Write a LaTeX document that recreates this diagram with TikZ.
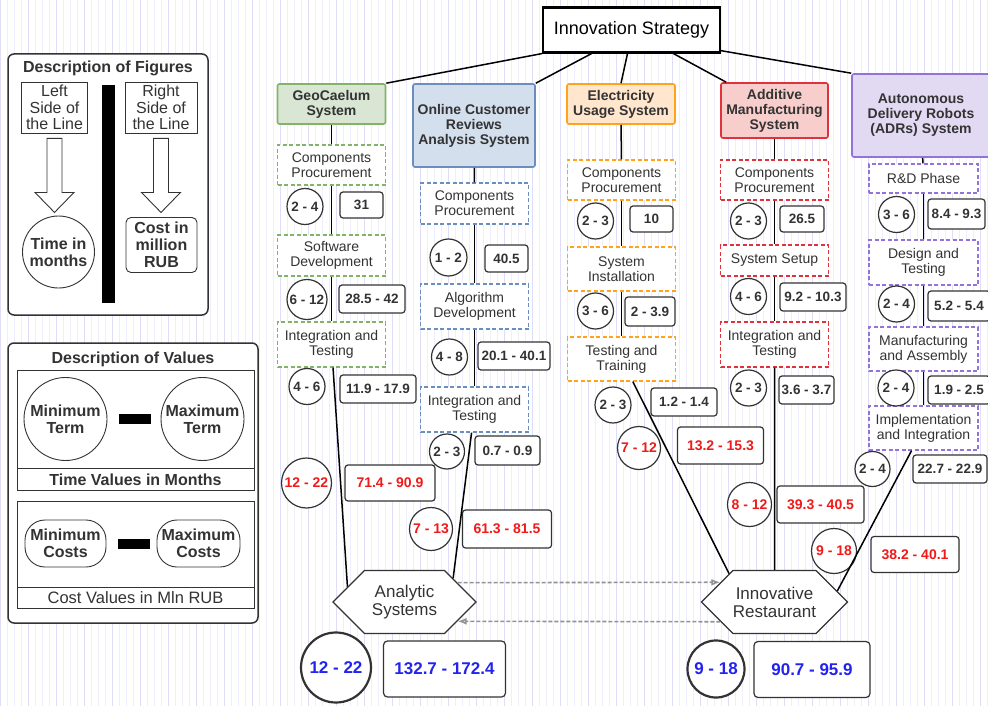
\documentclass[tikz,border=0pt]{standalone}
\usepackage{fontspec}
\setmainfont{Liberation Sans}
\usetikzlibrary{arrows.meta}
\usetikzlibrary{shapes.symbols}
\usetikzlibrary{positioning}

\definecolor{gridcol}{RGB}{222,222,248}
\definecolor{gridfine}{RGB}{238,238,252}
\definecolor{txt}{HTML}{333333}
\definecolor{geoline}{HTML}{82B366}
\definecolor{geofill}{HTML}{D9E6D4}
\definecolor{onlline}{HTML}{6C8EBF}
\definecolor{onlfill}{HTML}{D4DFEE}
\definecolor{elecline}{HTML}{FFA31A}
\definecolor{elecfill}{HTML}{FFE6CC}
\definecolor{addline}{HTML}{E0323C}
\definecolor{addfill}{HTML}{F8CECC}
\definecolor{adrline}{HTML}{9373D9}
\definecolor{adrfill}{HTML}{E2DAF3}
\definecolor{valred}{HTML}{F01A1A}
\definecolor{valblue}{HTML}{2323F0}

\begin{document}
\begin{tikzpicture}[x=1pt,y=-1pt,
  every node/.style={text=txt},
  lvl/.style={draw,line width=1.6pt,rounded corners=2pt,align=center,inner sep=1pt,
    font=\fontsize{14}{15}\selectfont\bfseries},
  phase/.style={draw,dash pattern=on 4pt off 2.5pt,line width=1.2pt,fill=white,align=center,
    minimum width=108,minimum height=41,inner sep=1pt,font=\fontsize{14}{15}\selectfont},
  term/.style={circle,draw=txt,line width=1.2pt,fill=white,inner sep=0pt,minimum size=36,
    font=\fontsize{13.5}{14}\selectfont\bfseries},
  cost/.style={draw=txt,line width=1.2pt,fill=white,rounded corners=3pt,inner sep=1pt,
    minimum height=27,font=\fontsize{13.5}{14}\selectfont\bfseries},
  rterm/.style={term,text=valred,font=\fontsize{14}{15}\selectfont\bfseries},
  rcost/.style={cost,text=valred,minimum height=36,font=\fontsize{14}{15}\selectfont\bfseries},
  total/.style={draw=txt,fill=white,inner sep=0pt,text=valblue,font=\fontsize{17}{18}\selectfont\bfseries},
  hexa/.style={signal,signal to=west and east,signal pointer angle=90,draw=txt,line width=1.2pt,
    fill=white,minimum width=143,minimum height=63,inner sep=0pt,align=center,
    font=\fontsize{17}{18}\selectfont},
  link/.style={line width=1.5pt,black},
  flow/.style={line width=1.6pt,gray!85,dash pattern=on 4pt off 2pt,-{Latex[open,length=9pt,width=7pt]}},
  legend/.style={draw=txt,line width=0.9pt,align=center,inner sep=0pt},
  bold16/.style={font=\fontsize{16}{17}\selectfont\bfseries},
  reg16/.style={font=\fontsize{16}{16.5}\selectfont}]

\useasboundingbox (0,0) rectangle (988,706);
\fill[white] (0,0) rectangle (988,706);
\draw[gridfine,line width=0.5pt,step=7] (0,0) grid (988,706);
\draw[gridcol,line width=0.6pt,step=28] (0,0) grid (988,706);

% description of figures
\draw[line width=1.5pt,draw=txt,rounded corners=6pt,fill=white] (8,54) rectangle (208,315);
\node[bold16] (figs) at (108,68) {Description of Figures};
\node[legend,reg16,minimum width=66,minimum height=51] (lside) at (54.5,107.5) {Left\\Side of\\the Line};
\node[legend,reg16,minimum width=72,minimum height=51] (rside) at (161,107.5) {Right\\Side of\\the Line};
\fill[black] (102,85) rectangle (115,303);
\draw[line width=0.9pt,draw=txt,fill=white] ([xshift=-7.5,yshift=-5]lside.south) -- ++(15,0) -- ++(0,54)
  -- ++(12,0) -- ++(-19.5,20) -- ++(-19.5,-20) -- ++(12,0) -- cycle;
\draw[line width=0.9pt,draw=txt,fill=white] ([xshift=-7.5,yshift=-5]rside.south) -- ++(15,0) -- ++(0,54)
  -- ++(12,0) -- ++(-19.5,20) -- ++(-19.5,-20) -- ++(12,0) -- cycle;
\node[legend,circle,bold16,minimum size=72] (tmonth) at (58.5,252) {Time in\\months};
\node[legend,bold16,rounded corners=5pt,minimum width=71,minimum height=55] (crub) at (161.5,245) {Cost in\\million\\RUB};

% description of values
\draw[line width=1.5pt,draw=txt,rounded corners=6pt,fill=white] (8,343) rectangle (258,623);
\node[bold16] (vals) at (133,359) {Description of Values};
\draw[line width=0.9pt,draw=txt] (17,370) rectangle (254,490);
\draw[line width=0.9pt,draw=txt] (17,468) -- (254,468);
\node[bold16] (tvm) at (135.5,479.5) {Time Values in Months};
\node[legend,circle,bold16,minimum size=83] (minterm) at (65.5,419) {Minimum\\Term};
\node[legend,circle,bold16,minimum size=83] (maxterm) at (202.5,419) {Maximum\\Term};
\draw[line width=10pt] ([xshift=12]minterm.east) -- ([xshift=-10]maxterm.west);
\draw[line width=0.9pt,draw=txt] (17,501) rectangle (254,608);
\draw[line width=0.9pt,draw=txt] (17,587) -- (254,587);
\node[font=\fontsize{16.5}{17}\selectfont] (cvm) at (135.5,597.5) {Cost Values in Mln RUB};
\node[legend,bold16,rounded corners=20pt,minimum width=81,minimum height=47] (mincost) at (65.5,543.5) {Minimum\\Costs};
\node[legend,bold16,rounded corners=20pt,minimum width=83,minimum height=47] (maxcost) at (198.5,543.5) {Maximum\\Costs};
\draw[line width=10pt] ([xshift=12]mincost.east) -- ([xshift=-7]maxcost.west);

% strategy and systems
\node[draw=black,line width=2.2pt,fill=white,minimum width=177,minimum height=45,
  font=\fontsize{18}{19}\selectfont,text=black] (strat) at (631.5,30) {Innovation Strategy};
\node[lvl,draw=geoline,fill=geofill,minimum width=108,minimum height=40] (geo) at (331.5,104) {GeoCaelum\\System};
\node[lvl,draw=onlline,fill=onlfill,minimum width=122,minimum height=83] (onl) at (474,125.5) {Online Customer\\Reviews\\Analysis System};
\node[lvl,draw=elecline,fill=elecfill,minimum width=108,minimum height=40] (elec) at (621,104) {Electricity\\Usage System};
\node[lvl,draw=addline,fill=addfill,minimum width=107,minimum height=55] (add) at (774.5,110.5) {Additive\\Manufacturing\\System};
\node[lvl,draw=adrline,fill=adrfill,minimum width=138,minimum height=83] (adr) at (921,115.5) {Autonomous\\Delivery Robots\\(ADRs) System};

\draw[link] (strat.south west) -- (geo.north east);
\draw[link] ([xshift=-40]strat.south) -- (onl.north east);
\draw[link] ([xshift=-4]strat.south) -- (elec.north);
\draw[link] ([xshift=42]strat.south) -- ([xshift=6]add.north west);
\draw[link] (strat.-13) -- (adr.north west);

% GeoCaelum
\node[phase,draw=geoline,minimum height=40] (gcp) at (331.5,165) {Components\\Procurement};
\node[phase,draw=geoline] (gsd) at (331.5,255.5) {Software\\Development};
\node[phase,draw=geoline,minimum height=45] (gint) at (331.5,344.5) {Integration and\\Testing};
\draw[link] (geo) -- (gcp);
\draw[link] (gcp) -- (gsd);
\draw[link] (gsd) -- (gint);
\node[term] (gt1) at (305,206.5) {2 - 4};
\node[cost,minimum width=43,minimum height=26] (gc1) at (361.5,205) {31};
\node[term,minimum size=40] (gt2) at (307,299.5) {6 - 12};
\node[cost,minimum width=66,minimum height=28] (gc2) at (372,299) {28.5 - 42};
\node[term] (gt3) at (307,386.5) {4 - 6};
\node[cost,minimum width=76,minimum height=28] (gc3) at (378,389) {11.9 - 17.9};
\node[rterm,minimum size=50] (gt4) at (306.5,483) {12 - 22};
\node[rcost,minimum width=90] (gc4) at (390,483) {71.4 - 90.9};

% Online reviews
\node[phase,draw=onlline] (ocp) at (474.5,203.5) {Components\\Procurement};
\node[phase,draw=onlline,minimum height=45] (oalg) at (474.5,306.5) {Algorithm\\Development};
\node[phase,draw=onlline,minimum height=45] (oint) at (474.5,409.5) {Integration and\\Testing};
\draw[link] (onl) -- (ocp);
\draw[link] (ocp) -- (oalg);
\draw[link] (oalg) -- (oint);
\node[term,minimum size=37] (ot1) at (448.5,257.5) {1 - 2};
\node[cost,minimum width=43] (oc1) at (506.5,258.5) {40.5};
\node[term] (ot2) at (449.5,357) {4 - 8};
\node[cost,minimum width=72,minimum height=28] (oc2) at (514,356) {20.1 - 40.1};
\node[term,minimum size=35] (ot3) at (447,451.5) {2 - 3};
\node[cost,minimum width=65,minimum height=29] (oc3) at (507.5,450.5) {0.7 - 0.9};
\node[rterm,minimum size=43] (ot4) at (431,529) {7 - 13};
\node[rcost,minimum width=89,minimum height=38] (oc4) at (507,529) {61.3 - 81.5};

% Electricity usage
\node[phase,draw=elecline,minimum height=40] (ecp) at (621.5,180) {Components\\Procurement};
\node[phase,draw=elecline,minimum height=44] (esi) at (621.5,269) {System\\Installation};
\node[phase,draw=elecline,minimum height=44] (etr) at (621.5,359) {Testing and\\Training};
\draw[link] (elec) -- (ecp);
\draw[link] (ecp) -- (esi);
\draw[link] (esi) -- (etr);
\node[term] (et1) at (595.5,221) {2 - 3};
\node[cost,minimum width=43,minimum height=26] (ec1) at (651.5,219) {10};
\node[term] (et2) at (595.5,311) {3 - 6};
\node[cost,minimum width=50,minimum height=29] (ec2) at (650,311.5) {2 - 3.9};
\node[term] (et3) at (613,405) {2 - 3};
\node[cost,minimum width=66,minimum height=28] (ec3) at (684,402) {1.2 - 1.4};
\node[rterm,minimum size=43] (et4) at (639,448) {7 - 12};
\node[rcost,minimum width=86,minimum height=37] (ec4) at (720.5,445.5) {13.2 - 15.3};

% Additive manufacturing
\node[phase,draw=addline,minimum height=40] (acp) at (774.5,180) {Components\\Procurement};
\node[phase,draw=addline,minimum height=31] (ass) at (774.5,260.5) {System Setup};
\node[phase,draw=addline,minimum height=45] (aint) at (774.5,344.5) {Integration and\\Testing};
\draw[link] (add) -- (acp);
\draw[link] (acp) -- (ass);
\draw[link] (ass) -- (aint);
\node[term] (at1) at (748.5,221) {2 - 3};
\node[cost,minimum width=44,minimum height=26] (ac1) at (802,219) {26.5};
\node[term] (at2) at (748.5,296.5) {4 - 6};
\node[cost,minimum width=66,minimum height=28] (ac2) at (813,297) {9.2 - 10.3};
\node[term] (at3) at (748.5,388) {2 - 3};
\node[cost,minimum width=55,minimum height=28] (ac3) at (806.5,390) {3.6 - 3.7};
\node[rterm,minimum size=44] (at4) at (749.5,504.5) {8 - 12};
\node[rcost,minimum width=87,minimum height=37] (ac4) at (820.5,504.5) {39.3 - 40.5};

% ADRs
\node[phase,draw=adrline,minimum width=109,minimum height=29] (rnd) at (923.5,178.5) {R\&D Phase};
\node[phase,draw=adrline,minimum width=109,minimum height=45] (rdes) at (923.5,262.5) {Design and\\Testing};
\node[phase,draw=adrline,minimum width=109,minimum height=44] (rman) at (923.5,349) {Manufacturing\\and Assembly};
\node[phase,draw=adrline,minimum width=109,minimum height=44] (rimp) at (923.5,428) {Implementation\\and Integration};
\draw[link] (adr) -- (rnd);
\draw[link] (rnd) -- (rdes);
\draw[link] (rdes) -- (rman);
\draw[link] (rman) -- (rimp);
\node[term] (rt1) at (896.5,214.5) {3 - 6};
\node[cost,minimum width=57,minimum height=30] (rc1) at (956.5,214) {8.4 - 9.3};
\node[term] (rt2) at (896.5,304) {2 - 4};
\node[cost,minimum width=62,minimum height=30] (rc2) at (959,306) {5.2 - 5.4};
\node[term] (rt3) at (896,388) {2 - 4};
\node[cost,minimum width=62,minimum height=28] (rc3) at (959,390) {1.9 - 2.5};
\node[term,minimum size=35] (rt4) at (872.5,469) {2 - 4};
\node[cost,minimum width=74,minimum height=28] (rc4) at (950,469) {22.7 - 22.9};
\node[rterm,minimum size=45] (rt5) at (834,551) {9 - 18};
\node[rcost,minimum width=88,minimum height=36] (rc5) at (915,554.5) {38.2 - 40.1};

% results
\node[hexa] (ana) at (404.5,602) {Analytic\\Systems};
\node[hexa] (inn) at (774.5,602) {Innovative\\Restaurant};
\draw[link] (gint) -- (ana.165);
\draw[link] (oint) -- (ana.26);
\draw[link] (etr) -- (inn.148);
\draw[link] (aint) -- (inn);
\draw[link] (rimp) -- (inn.10);
\draw[flow] (ana.20) -- (inn.160);
\draw[flow] (inn.200) -- (ana.-20);

\node[total,circle,line width=2.2pt,minimum size=70] (anat) at (336,667.5) {12 - 22};
\node[total,line width=1.2pt,rounded corners=4pt,minimum width=122,minimum height=56] (anac) at (444.5,669) {132.7 - 172.4};
\node[total,circle,line width=2.2pt,minimum size=57] (innt) at (716,669) {9 - 18};
\node[total,line width=1.2pt,rounded corners=4pt,minimum width=116,minimum height=56] (innc) at (812,669.5) {90.7 - 95.9};

\end{tikzpicture}
\end{document}
